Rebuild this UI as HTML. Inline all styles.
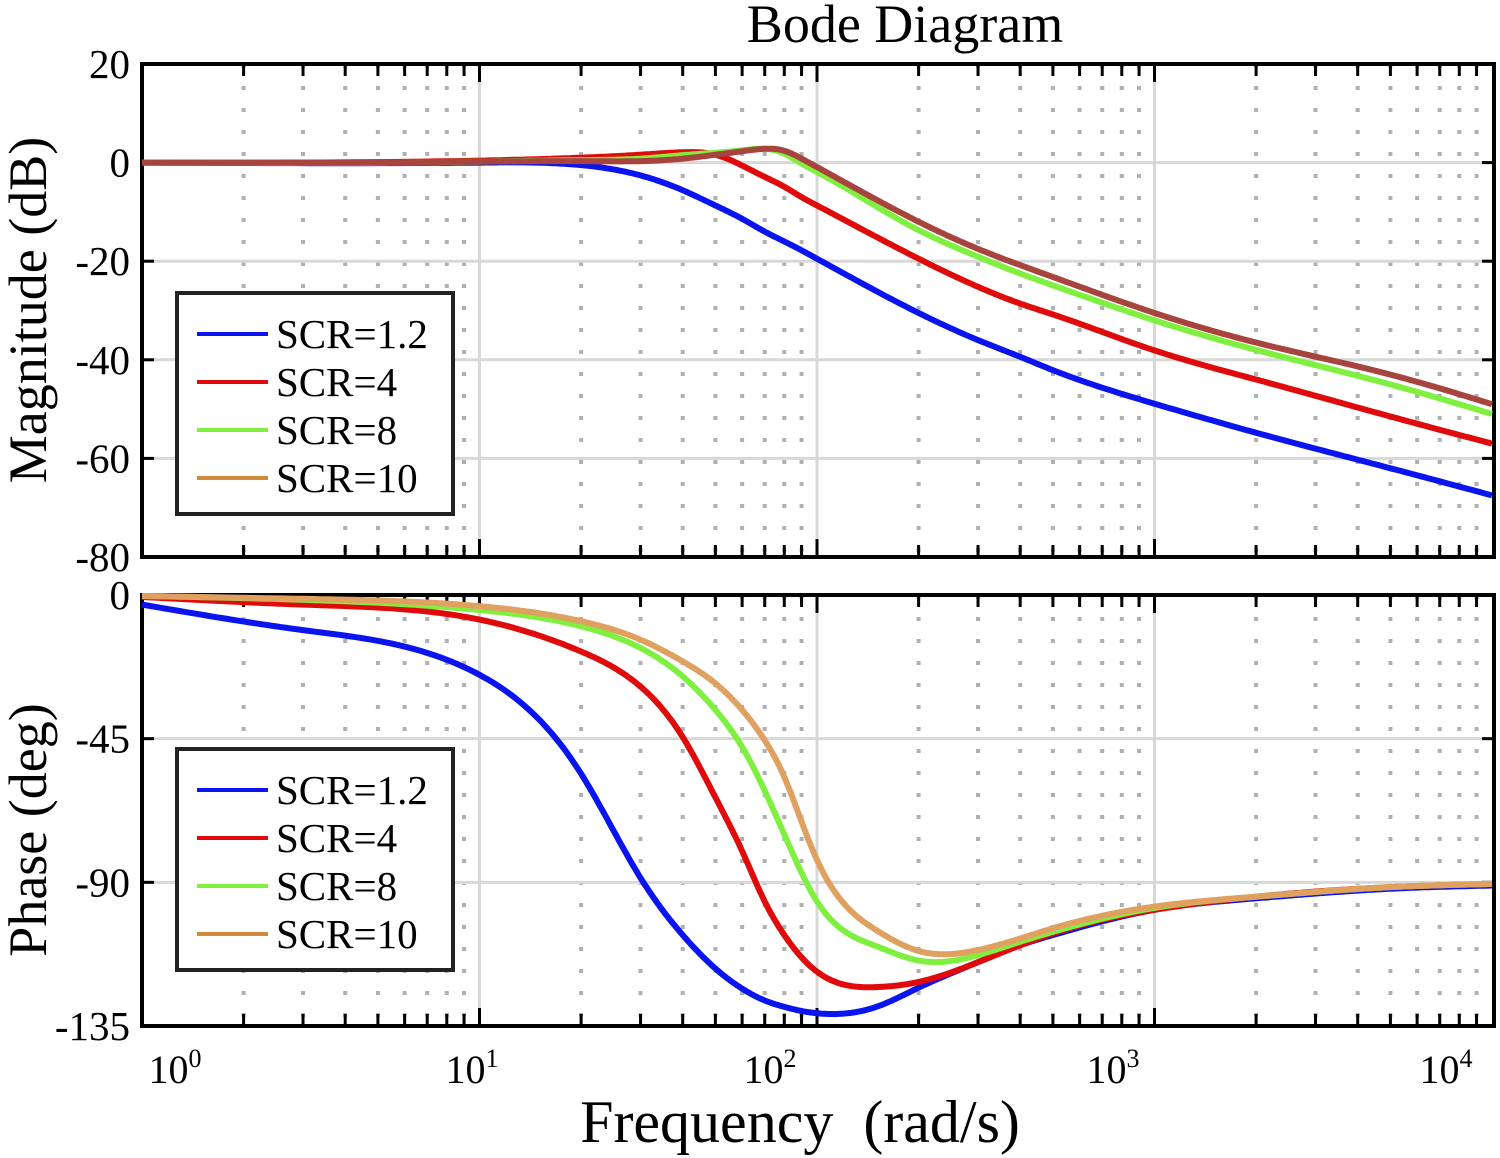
<!DOCTYPE html>
<html><head><meta charset="utf-8"><style>
html,body{margin:0;padding:0;background:#fff;}
svg{display:block;}
text{font-family:"Liberation Serif",serif;fill:#000;}
</style></head><body>
<svg id="chart" width="1500" height="1158" viewBox="0 0 1500 1158">
<g id="g"></g>
</svg>
<script>
const magFreq=[1,10,20,30,40,50,60,70,80,90,100,200,300,400,500,1000,2000,5000,10000];
const magBlue=[0,0,-0.5,-2.6,-5.6,-8.7,-11.4,-14,-16,-17.8,-19.5,-30.5,-36,-39.4,-42.1,-48.9,-54.8,-62,-67.5];
const magRed=[0,0.4,1,1.6,2.1,1.6,-0.6,-2.9,-4.9,-7,-8.7,-19.5,-25.2,-28.6,-30.8,-38.1,-44,-51.5,-57];
const magGreen=[0,0.2,0.5,0.8,1.5,2,2.5,2.8,1.8,-0.2,-1.9,-13.7,-19.1,-22.5,-24.9,-32,-38,-45,-51];
const magBrown=[0,0.2,0.3,0.3,0.8,1.6,2.3,2.8,2.4,0.8,-0.9,-12,-17.5,-20.8,-23.2,-30.5,-36.5,-43,-49];
const phFreq=[1,3,10,20,30,40,50,60,70,80,90,100,150,200,300,400,500,1000,2000,5000,10000];
const phBlue=[-3,-11,-25,-56,-88.6,-106.5,-117,-123.3,-127,-129,-130.3,-131,-129,-123,-115,-109.7,-106.5,-98.6,-95,-92,-91];
const phRed=[-0.6,-3,-7.7,-17.7,-28.7,-44.5,-63.4,-80.2,-96,-106.5,-113.5,-118,-122.8,-121.2,-115,-109.7,-106,-98.6,-94.5,-91.5,-90.5];
const phGreen=[-0.3,-1.5,-4.7,-9.8,-16.6,-25.5,-36,-47.6,-61.3,-75,-87,-96,-110,-114.5,-112.8,-108.6,-105.5,-98,-94.5,-91.5,-90.5];
const phBrown=[-0.3,-1.2,-3.5,-8.2,-14,-20.8,-27.7,-36,-45.5,-57,-71,-83,-105,-111.5,-111.2,-107.6,-104.4,-97.6,-94.5,-91.5,-90.5];
const magTicks=[20,0,-20,-40,-60,-80];
const phTicks=[0,-45,-90,-135];
const xTickLabels=["0","1","2","3","4"];
const legendLabels=["SCR=1.2","SCR=4","SCR=8","SCR=10"];

const NS="http://www.w3.org/2000/svg";
const g=document.getElementById('g');
const L=142,R=1494,DEC=337.5;
const X=f=>L+Math.log10(f)*DEC;
const T1=64,B1=557,T2=595,B2=1026;
const Ym=v=>T1+(20-v)*(B1-T1)/100;
const Yp=v=>T2+(0-v)*(B2-T2)/135;
function el(tag,attrs,parent){const e=document.createElementNS(NS,tag);for(const k in attrs)e.setAttribute(k,attrs[k]);(parent||g).appendChild(e);return e;}

function panel(T,B,Y,ticks,name){
  const pg=el('g',{});
  
  
  for(let d=0;d<4;d++)for(let m=2;m<=9;m++){const x=X(m*Math.pow(10,d));if(x>R)continue;
    const l=el('line',{x1:x,x2:x,y1:T,y2:B,stroke:'#b0b0b0','stroke-width':4,'stroke-dasharray':'4 18'},pg);
    }
  for(let d=1;d<=3;d++){const x=X(Math.pow(10,d));
    const l=el('line',{x1:x,x2:x,y1:T,y2:B,stroke:'#d8d8d8','stroke-width':3},pg);
    }
  ticks.forEach((v,i)=>{const y=Y(v);
    if(i>0&&i<ticks.length-1){const l=el('line',{x1:L,x2:R,y1:y,y2:y,stroke:'#d8d8d8','stroke-width':3},pg);
      }
    const t=el('text',{x:130,y:y+14,'font-size':41,'text-anchor':'end'},pg);t.textContent=String(v);
    
    if(i>0&&i<ticks.length-1){el('line',{x1:L,x2:L+12,y1:y,y2:y,stroke:'#000','stroke-width':3},pg);el('line',{x1:R-12,x2:R,y1:y,y2:y,stroke:'#000','stroke-width':3},pg);}
  });
  for(let d=0;d<4;d++)for(let m=1;m<=9;m++){const x=X(m*Math.pow(10,d));if(x>R-2||(d==0&&m==1))continue;
    const len=m==1?18:12;
    el('line',{x1:x,x2:x,y1:T,y2:T+len,stroke:'#000','stroke-width':3},pg);
    el('line',{x1:x,x2:x,y1:B,y2:B-len,stroke:'#000','stroke-width':3},pg);}
  const fr=el('rect',{x:L,y:T,width:R-L,height:B-T,fill:'none',stroke:'#000','stroke-width':4},pg);
  
}
panel(T1,B1,Ym,magTicks,'magnitude');
panel(T2,B2,Yp,phTicks,'phase');

// natural cubic spline in log-frequency
function curve(fs,vs,Y,color,name){
  const xs=fs.map(f=>Math.log10(f)),n=xs.length;
  const h=[];for(let i=0;i<n-1;i++)h.push(xs[i+1]-xs[i]);
  const a=new Array(n).fill(0),b=new Array(n).fill(1),c=new Array(n).fill(0),r=new Array(n).fill(0);
  for(let i=1;i<n-1;i++){a[i]=h[i-1];b[i]=2*(h[i-1]+h[i]);c[i]=h[i];
    r[i]=6*((vs[i+1]-vs[i])/h[i]-(vs[i]-vs[i-1])/h[i-1]);}
  for(let i=1;i<n;i++){const w=a[i]/b[i-1];b[i]-=w*c[i-1];r[i]-=w*r[i-1];}
  const M=new Array(n);M[n-1]=r[n-1]/b[n-1];
  for(let i=n-2;i>=0;i--)M[i]=(r[i]-c[i]*M[i+1])/b[i];
  let d='';
  for(let i=0;i<n-1;i++){
    const steps=30;
    for(let s=(i==0?0:1);s<=steps;s++){
      const t=s/steps,x=xs[i]+t*h[i];
      const A=(xs[i+1]-x)/h[i],B=(x-xs[i])/h[i];
      const v=A*vs[i]+B*vs[i+1]+((A*A*A-A)*M[i]+(B*B*B-B)*M[i+1])*h[i]*h[i]/6;
      const px=Math.min(L+x*DEC,R);
      d+=(d?' L':'M')+px.toFixed(1)+','+Y(v).toFixed(1);
    }
  }
  const p=el('path',{d:d,fill:'none',stroke:color,'stroke-width':6,'stroke-linejoin':'round'});
  
  
}
curve(magFreq,magBlue,Ym,'#0a14f0','mag-line-scr-1-2');
curve(magFreq,magRed,Ym,'#e00a0a','mag-line-scr-4');
curve(magFreq,magGreen,Ym,'#80f040','mag-line-scr-8');
curve(magFreq,magBrown,Ym,'#a8443e','mag-line-scr-10');
curve(phFreq,phBlue,Yp,'#0a14f0','phase-line-scr-1-2');
curve(phFreq,phRed,Yp,'#e00a0a','phase-line-scr-4');
curve(phFreq,phGreen,Yp,'#80f040','phase-line-scr-8');
curve(phFreq,phBrown,Yp,'#e0a060','phase-line-scr-10');

const legColors=['#0a14f0','#e00a0a','#80f040','#d08a3a'];
function legend(top,name){
  const lg=el('g',{});
  
  
  el('rect',{x:177,y:top,width:276,height:221,fill:'#fff',stroke:'#222','stroke-width':4},lg);
  legendLabels.forEach((s,i)=>{const y=top+41+i*48;
    const l=el('line',{x1:197,x2:268,y1:y,y2:y,stroke:legColors[i],'stroke-width':4},lg);
    
    const t=el('text',{x:276,y:y+14,'font-size':41},lg);t.textContent=s;
    });
}
legend(293,'magnitude-legend');
legend(749,'phase-legend');

const xpos=[175,472,770,1113,1446];
xTickLabels.forEach((s,i)=>{const t=el('text',{x:xpos[i],y:1083,'font-size':40,'text-anchor':'middle'});
  t.innerHTML='10<tspan font-size="26" dy="-16">'+s+'</tspan>';
  });

let t=el('text',{x:905,y:42,'font-size':54,'text-anchor':'middle'});t.textContent='Bode Diagram';

t=el('text',{x:800,y:1142,'font-size':60,'text-anchor':'middle'});t.textContent='Frequency\u00a0\u00a0(rad/s)';

t=el('text',{x:0,y:0,'font-size':54,'text-anchor':'middle',transform:'translate(46,310) rotate(-90)'});t.textContent='Magnitude (dB)';

t=el('text',{x:0,y:0,'font-size':54,'text-anchor':'middle',transform:'translate(46,830) rotate(-90)'});t.textContent='Phase (deg)';

</script>
</body></html>
